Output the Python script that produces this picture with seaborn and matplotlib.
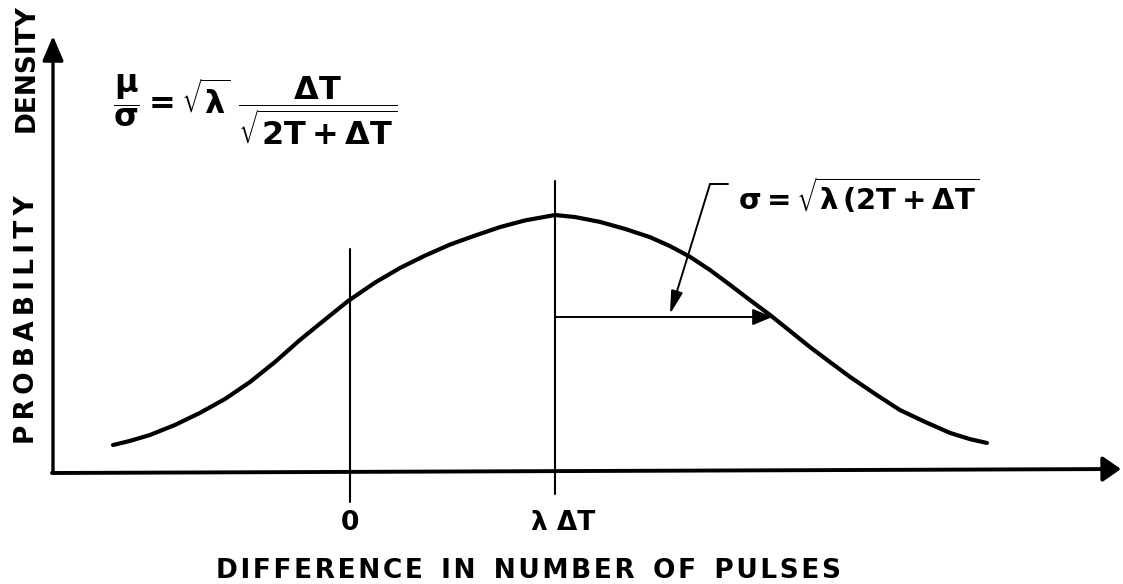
import matplotlib
matplotlib.use("Agg")
import matplotlib.pyplot as plt
import numpy as np
import pandas as pd
import seaborn as sns

sns.set_theme(style="white")
plt.rcParams["font.family"] = ["DejaVu Sans"]
plt.rcParams["mathtext.fontset"] = "dejavusans"
plt.rcParams["mathtext.default"] = "bf"

# curve: x in units of lambda*dT, height relative to the peak
diff_pulses = [-1.156, -1.073, -0.976, -0.854, -0.732, -0.610, -0.488, -0.366, -0.244, -0.122,
               -0.010, 0.122, 0.244, 0.366, 0.488, 0.610, 0.732, 0.854, 1.000, 1.098,
               1.220, 1.341, 1.463, 1.561, 1.659, 1.756, 1.854, 1.951, 2.049, 2.146,
               2.244, 2.341, 2.439, 2.561, 2.683, 2.805, 2.927, 3.024, 3.107]
density = [0.105, 0.121, 0.144, 0.183, 0.230, 0.284, 0.350, 0.428, 0.514, 0.593,
           0.665, 0.737, 0.794, 0.842, 0.885, 0.920, 0.953, 0.979, 1.000, 0.992,
           0.973, 0.946, 0.914, 0.879, 0.837, 0.786, 0.728, 0.669, 0.611, 0.549,
           0.486, 0.428, 0.370, 0.304, 0.241, 0.195, 0.152, 0.128, 0.113]
tick_pos = [0.0, 1.0]
tick_labels = ["0", "λ ΔT"]
mean_pos = 1.0
sigma_len = 1.06

W, H = 1123, 584
X0_PX, UNIT_PX = 350, 205
BASE_PX, PEAK_PX = 472, 257
HAIR, THIN = "\u200a", "\u2009"


def px(xp: float, yp: float) -> tuple[float, float]:
    """Pixel position in the sheet -> data units."""
    return (xp - X0_PX) / UNIT_PX, (BASE_PX - yp) / PEAK_PX


def spaced(text: str, gap: str = HAIR, words: str = "  ") -> str:
    # hand lettering is spread wider than the font
    return words.join(gap.join(word) for word in text.split())


fig = plt.figure(figsize=(W / 100, H / 100), dpi=100)
ax = fig.add_axes([0, 0, 1, 1])
ax.set_xlim(px(0, 0)[0], px(W, 0)[0])
ax.set_ylim(px(0, H)[1], px(0, 0)[1])
ax.axis("off")

frame = pd.DataFrame({"x": diff_pulses, "y": density})
sns.lineplot(data=frame, x="x", y="y", ax=ax, color="black", linewidth=3.0,
             solid_capstyle="round", solid_joinstyle="round")

# axes with arrow heads
arrow_kw = dict(arrowstyle="-|>,head_length=0.75,head_width=0.32", color="black",
                lw=2.4, shrinkA=0, shrinkB=0, mutation_scale=20)
ax.annotate("", xy=px(53, 36), xytext=px(53, 473), arrowprops=arrow_kw)
ax.annotate("", xy=px(1121, 469), xytext=px(52, 473),
            arrowprops=dict(arrow_kw, arrowstyle="-|>,head_length=0.55,head_width=0.38", lw=2.8))

# reference lines at 0 and at the mean
ax.plot([tick_pos[0]] * 2, [px(0, 502)[1], px(0, 249)[1]], color="black", lw=1.5)
ax.plot([mean_pos] * 2, [px(0, 494)[1], px(0, 181)[1]], color="black", lw=1.5)

# sigma arrow from the mean
sig_y = px(0, 317)[1]
ax.annotate("", xy=(mean_pos + sigma_len, sig_y), xytext=(mean_pos, sig_y),
            arrowprops=dict(arrowstyle="-|>,head_length=0.6,head_width=0.25", color="black",
                            lw=1.4, shrinkA=0, shrinkB=0, mutation_scale=20))

# leader from the sigma formula
lead = [px(728, 184), px(710, 184)]
ax.plot([p[0] for p in lead], [p[1] for p in lead], color="black", lw=1.4)
ax.annotate("", xy=px(670, 314), xytext=px(710, 184),
            arrowprops=dict(arrowstyle="-|>,head_length=0.7,head_width=0.18", color="black",
                            lw=1.4, shrinkA=0, shrinkB=0, mutation_scale=20))

txt_kw = dict(color="black", fontweight="bold", fontsize=19)
for pos, lab in zip(tick_pos, tick_labels):
    ax.text(pos + (0.04 if pos else 0), px(0, 523)[1], lab, ha="center", va="center", **txt_kw)

ax.text(*px(529, 571), spaced("DIFFERENCE IN NUMBER OF PULSES"), ha="center", va="center", **txt_kw)
ax.text(*px(27, 320), spaced("PROBABILITY", THIN), rotation=90, ha="center", va="center", **txt_kw)
ax.text(*px(27, 68), "DENSITY", rotation=90, ha="center", va="center", **txt_kw)

ax.text(*px(738, 196), r"$\sigma = \sqrt{\lambda\,(2T + \Delta T}$", ha="left", va="center",
        color="black", fontsize=21)
ax.text(*px(113, 110), r"$\dfrac{\mu}{\sigma} = \sqrt{\lambda}\ \dfrac{\Delta T}{\sqrt{2T+\Delta T}}$",
        ha="left", va="center", color="black", fontsize=23)

fig.savefig("out.png", dpi=100)
